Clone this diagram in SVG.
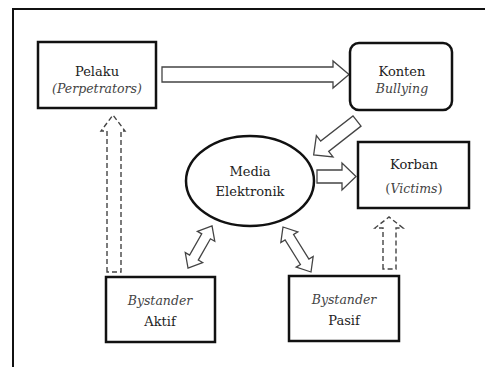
<svg xmlns="http://www.w3.org/2000/svg" width="485" height="367" viewBox="0 0 485 367">
<style>
.box{fill:#fff;stroke:#111;stroke-width:2.5}
.blk{fill:#fff;stroke:#444;stroke-width:1.3;stroke-linejoin:miter}
.dash{fill:none;stroke:#444;stroke-width:1.4;stroke-dasharray:5,3}
text{font-family:'DejaVu Serif','Liberation Serif',serif;font-size:13px;fill:#222;text-anchor:middle}
.it{font-style:italic;fill:#444;font-size:12.5px}
</style>
<rect width="485" height="367" fill="#fff"/>
<path d="M13,367 V9 H485" fill="none" stroke="#111" stroke-width="2"/>
<g id="connectors">
<polygon class="blk" transform="translate(162,74.5)" points="0,-7.5 171,-7.5 171,-13.5 187,0 171,13.5 171,7.5 0,7.5"/>
<polygon class="blk" transform="translate(317,176.5)" points="0,-6.5 25,-6.5 25,-13.5 39,0 25,13.5 25,6.5 0,6.5"/>
<polygon class="blk" transform="translate(357,121) rotate(142)" points="0,-6.5 41,-6.5 41,-13.5 55,0 41,13.5 41,6.5 0,6.5"/>
<polygon class="blk" transform="translate(188,268) rotate(-60.3)" points="0,0 12,-10 12,-5 36.5,-5 36.5,-10 48.5,0 36.5,10 36.5,5 12,5 12,10"/>
<polygon class="blk" transform="translate(311,272) rotate(-121.9)" points="0,0 12,-10 12,-5 41,-5 41,-10 53,0 41,10 41,5 12,5 12,10"/>
<path class="dash" d="M107,272 V131 H101 L113,115 L125,131 H121 V272 Z"/>
<path class="dash" d="M383,269 V228 H375 L389,217 L403,228 H396 V269 Z"/>
</g>
<g id="pelaku">
<rect class="box" x="38" y="42" width="118" height="66"/>
<text x="97" y="76">Pelaku</text>
<text x="97" y="93" class="it">(Perpetrators)</text>
</g>
<g id="konten">
<rect class="box" x="350" y="43" width="102" height="67" rx="9"/>
<text x="402" y="76">Konten</text>
<text x="402" y="93" class="it">Bullying</text>
</g>
<g id="media">
<ellipse class="box" cx="250" cy="181" rx="64" ry="45"/>
<text x="250" y="176">Media</text>
<text x="250" y="196">Elektronik</text>
</g>
<g id="korban">
<rect class="box" x="358" y="142" width="111" height="66"/>
<text x="414" y="169">Korban</text>
<text x="414" y="193"><tspan fill="#444">(</tspan><tspan class="it">Victims</tspan><tspan fill="#444">)</tspan></text>
</g>
<g id="aktif">
<rect class="box" x="106" y="277" width="109" height="65"/>
<text x="160" y="305" class="it">Bystander</text>
<text x="160" y="326">Aktif</text>
</g>
<g id="pasif">
<rect class="box" x="289" y="276" width="110" height="65"/>
<text x="344" y="304" class="it">Bystander</text>
<text x="344" y="325">Pasif</text>
</g>
</svg>
